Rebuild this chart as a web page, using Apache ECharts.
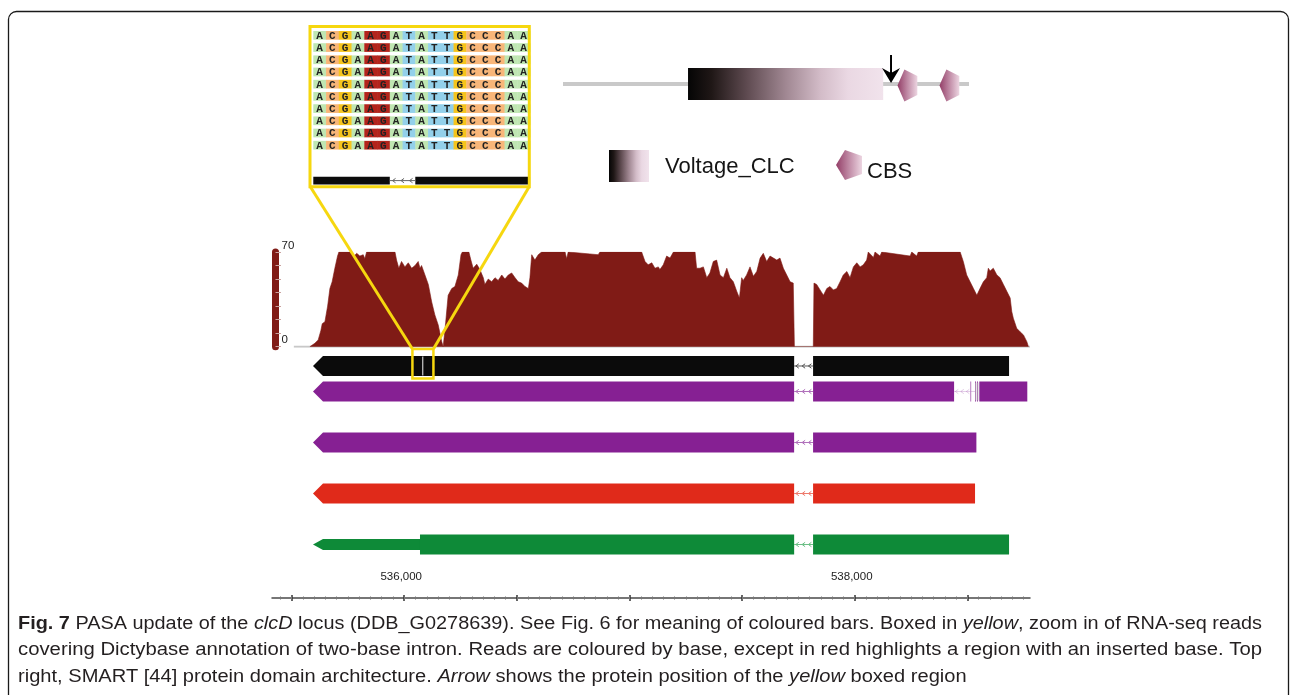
<!DOCTYPE html>
<html><head><meta charset="utf-8">
<script src="https://cdn.jsdelivr.net/npm/echarts@6/dist/echarts.min.js"></script>
<style>html,body{margin:0;padding:0;background:#fff}#c{width:1290px;height:695px}</style>
</head><body><div id="c"></div>
<script>
// ---------------- DATA ----------------
const genomeRange = [535413, 538778];
const majorTicks = [535500, 536000, 536500, 537000, 537500, 538000, 538500];
const labelTicks = [536000, 538000];
const coverageMax = 70;
const coverageLabels = [0, 70];
const coverageBaseline = [535510, 538778];
const coverage = [
[535581,0],[535589,0.5],[535603,2.5],[535618,5],[535630,12],[535636,17],[535648,18.5],[535660,30],[535670,43],[535680,48],[535692,58],[535704,67],[535710,70],[535766,70],[535778,67],[535789,69],[535803,67],[535818,68],[535825,65],[535833,70],[535959,70],[535966,64],[535976,58],[535988,63],[536003,59],[536018,62],[536033,58],[536048,60],[536062,63],[536070,58],[536077,60],[536092,53],[536107,46],[536122,33],[536136,23.5],[536151,16],[536166,4],[536173,0],[536178,0],[536184,18],[536195,38],[536211,43],[536225,44.5],[536240,53],[536252,68],[536258,70],[536287,70],[536296,64],[536306,58],[536322,61],[536336,57],[536351,51],[536358,46],[536373,50],[536388,48],[536403,51],[536417,49],[536433,53],[536447,50],[536462,53],[536477,54.5],[536492,51],[536506,48],[536521,47],[536536,44.5],[536551,43],[536558,51],[536566,68],[536580,64],[536595,68],[536610,70],[536714,70],[536721,65],[536728,70],[536861,68],[536869,70],[537054,70],[537069,63],[537083,60.5],[537099,62],[537113,58],[537128,59],[537135,57],[537150,60.5],[537165,67],[537180,65.5],[537195,70],[537291,70],[537298,58],[537313,58],[537328,59],[537343,51],[537357,54.5],[537372,63],[537387,64],[537402,53],[537417,51],[537432,58],[537446,51],[537461,48],[537476,41],[537488,36],[537498,51],[537505,49],[537520,53],[537535,59],[537550,52],[537565,55.6],[537580,65.5],[537594,69],[537609,63],[537624,67],[537639,65.5],[537654,64],[537668,65.5],[537683,58],[537698,53],[537713,48],[537727,47],[537732,0],[537816,0],[537819,47],[537831,46],[537846,42],[537861,38],[537876,43],[537890,44.5],[537905,42],[537920,43],[537935,48],[537949,53],[537965,55.6],[537979,51],[537994,59],[538009,62],[538024,59],[538038,60.5],[538053,64],[538060,70],[538083,66],[538090,70],[538112,67],[538120,70],[538246,67],[538253,70],[538275,67],[538282,70],[538468,70],[538482,63],[538497,53],[538512,48],[538527,43],[538542,38],[538556,43],[538571,48],[538586,51],[538593,58],[538601,56],[538615,58],[538631,53],[538645,51],[538660,46],[538675,41],[538690,36],[538697,26],[538704,21],[538719,13.6],[538734,11],[538749,8.7],[538764,3.7],[538771,0]
];

const trackNames = ['Dictybase', 'PASA model 1', 'PASA model 2', 'PASA model 3', 'PASA model 4'];
const trackLanes = [0, 1, 3, 5, 7];
const trackExons = [
  [[535595, 536082], [536084, 537731], [537815, 538685]],
  [[535595, 537731], [537815, 538441], [538514, 538516], [538534, 538538], [538543, 538547], [538553, 538766]],
  [[535595, 537731], [537815, 538540]],
  [[535595, 537731], [537815, 538534]],
  [[535595, 537731], [537815, 538685]]
];
const trackThickStart = [535595, 535595, 535595, 535595, 536070];
const twoBaseIntron = 536083;

const readRows = [
  'ACGAAGATATTGCCCAA','ACGAAGATATTGCCCAA','ACGAAGATATTGCCCAA','ACGAAGATATTGCCCAA','ACGAAGATATTGCCCAA',
  'ACGAAGATATTGCCCAA','ACGAAGATATTGCCCAA','ACGAAGATATTGCCCAA','ACGAAGATATTGCCCAA','ACGAAGATATTGCCCAA'
];
const insertHighlightCols = [4, 5];
const zoomAnnotExons = [[0, 6], [8, 17]];
const zoomAnnotIntrons = [[6, 8]];

const proteinLength = 880;
const domainNames = ['Voltage_CLC', 'CBS', 'CBS'];
const domainStarts = [271, 725, 816];
const domainEnds = [694, 768, 859];
const arrowResidue = 711;

const captionLines = [
  [['Fig. 7', 'b'], [' PASA update of the ', ''], ['clcD', 'i'], [' locus (DDB_G0278639). See Fig. 6 for meaning of coloured bars. Boxed in ', ''], ['yellow', 'i'], [', zoom in of RNA-seq reads', '']],
  [['covering Dictybase annotation of two-base intron. Reads are coloured by base, except in red highlights a region with an inserted base. Top', '']],
  [['right, SMART [44] protein domain architecture. ', ''], ['Arrow', 'i'], [' shows the protein position of the ', ''], ['yellow', 'i'], [' boxed region', '']]
];

// ---------------- STYLE ----------------
const COV_COLOR = '#801b16';
const TRACK_COLORS = ['#0b0b0b', '#862093', '#862093', '#e02a1a', '#0e8a38'];
const INTRON_COLORS = ['#555555', '#b070bb', '#b070bb', '#ee7a6c', '#6cbf86'];
const BASE_COLORS = { A: '#bfe6b2', C: '#f8b679', G: '#f5c41c', T: '#93d0ea' };
const HL_COLOR = '#b3241c';
const YELLOW = '#f6d70f';
const TRACK_H = 20, THIN_H = 11, TIP = 10;
const SANS = '"Liberation Sans", Arial, sans-serif';
const CLC_STOPS = [[0,'#050505'],[0.12,'#1f1716'],[0.3,'#5e4a50'],[0.5,'#a08792'],[0.68,'#d3bcc8'],[0.82,'#ead8e3'],[1,'#f1e3ec']];
const CBS_STOPS = [[0,'#933e67'],[0.5,'#c08aa5'],[1,'#ecd5e1']];
function grad(stops){ return {type:'linear', x:0, y:0, x2:1, y2:0, colorStops: stops.map(s=>({offset:s[0], color:s[1]}))}; }

// ---------------- BUILD ----------------
const trackData = [];
trackExons.forEach((exons, ti) => {
  const lane = trackLanes[ti];
  const geneStart = exons[0][0];
  exons.forEach((ex, k) => {
    trackData.push([ex[0], ex[1], lane, ti, 0, ex[0] === geneStart ? 1 : 0, trackThickStart[ti]]);
    if (k > 0) trackData.push([exons[k-1][1], ex[0], lane, ti, 1, 0, 0]);
  });
});

const readData = [];
readRows.forEach((row, r) => {
  for (let c = 0; c < row.length; c++) readData.push([c, r, row[c], insertHighlightCols.includes(c) ? 1 : 0]);
});
const ZOOM_ANNOT_LANE = 11.9;
const annotData = zoomAnnotExons.map(e => [e[0], e[1], 0]).concat(zoomAnnotIntrons.map(e => [e[0], e[1], 1]));

const domainData = [[0, proteinLength, 0]];
domainNames.forEach((n, i) => domainData.push([domainStarts[i], domainEnds[i], n === 'CBS' ? 2 : 1]));
domainData.push([arrowResidue, arrowResidue, 3]);

const minorTicks = [];
for (let v = 535450; v <= 538750; v += 50) minorTicks.push(v);

function intronGlyph(x0, x1, y, color, faint) {
  const out = [{type:'line', shape:{x1:x0, y1:y, x2:x1, y2:y}, style:{stroke:color, lineWidth:1, opacity: faint ? 0.35 : 1}}];
  const w = x1 - x0;
  if (w > 8 && w < 40) {
    for (let k = 0; k < 3; k++) {
      const cx = x0 + w * (k + 0.5) / 3;
      out.push({type:'polyline', shape:{points:[[cx+1.5, y-2.2],[cx-1.5, y],[cx+1.5, y+2.2]]}, style:{stroke:color, lineWidth:1, fill:null, opacity: faint ? 0.35 : 1}});
    }
  }
  return out;
}

function renderTrack(params, api) {
  const s = api.value(0), e = api.value(1), lane = api.value(2), ti = api.value(3), kind = api.value(4), tip = api.value(5), thick = api.value(6);
  const a = api.coord([s, lane]), b = api.coord([e, lane]);
  const y = a[1], col = TRACK_COLORS[ti];
  if (kind === 1) {
    if (b[0] - a[0] < 2) return {type:'rect', shape:{x:a[0]-0.5, y:y-TRACK_H/2+1, width:1, height:TRACK_H-2}, style:{fill:'#c8c8c8'}, z2: 5};
    return {type:'group', children: intronGlyph(a[0], b[0], y, INTRON_COLORS[ti], (b[0]-a[0]) < 14 || (b[0]-a[0]) > 12 && e > 538400)};
  }
  const children = [];
  let x0 = a[0], x1 = b[0];
  const xt = api.coord([Math.max(thick, s), lane])[0];
  function piece(xa, xb, h, pointed) {
    const hh = h / 2;
    if (pointed) return {type:'polygon', shape:{points:[[xa, y],[xa+TIP, y-hh],[xb, y-hh],[xb, y+hh],[xa+TIP, y+hh]]}, style:{fill:col}};
    return {type:'rect', shape:{x:xa, y:y-hh, width:Math.max(xb-xa, 0.6), height:h}, style:{fill:col}};
  }
  if (thick > s && thick < e) {
    children.push(piece(x0, xt, THIN_H, tip === 1));
    children.push(piece(xt, x1, TRACK_H, false));
  } else {
    children.push(piece(x0, x1, TRACK_H, tip === 1));
  }
  return {type:'group', children};
}

function renderRead(params, api) {
  const c = api.value(0), r = api.value(1), hl = api.value(3);
  const base = readData[params.dataIndex][2];
  const a = api.coord([c, r]), b = api.coord([c + 1, r]);
  const h = 8.7;
  return {type:'group', children:[
    {type:'rect', shape:{x:a[0], y:a[1]-h/2, width:b[0]-a[0]+0.4, height:h}, style:{fill: hl ? HL_COLOR : BASE_COLORS[base]}},
    {type:'text', x:(a[0]+b[0])/2, y:a[1]+0.7, style:{text:base, fontSize:11, fontFamily:'"Liberation Mono", monospace', fontWeight:'bold', fill:'#222', align:'center', verticalAlign:'middle'}}
  ]};
}

function renderAnnot(params, api) {
  const s = api.value(0), e = api.value(1), kind = api.value(2);
  const a = api.coord([s, ZOOM_ANNOT_LANE]), b = api.coord([e, ZOOM_ANNOT_LANE]);
  if (kind === 1) return {type:'group', children: intronGlyph(a[0], b[0], a[1], '#666', false)};
  return {type:'rect', shape:{x:a[0], y:a[1]-3.8, width:b[0]-a[0], height:7.6}, style:{fill:'#0b0b0b'}};
}

function renderDomain(params, api) {
  const s = api.value(0), e = api.value(1), k = api.value(2);
  const a = api.coord([s, 1]), b = api.coord([e, 0]);
  const x0 = a[0], x1 = b[0], y0 = a[1], y1 = b[1], ym = (y0 + y1) / 2;
  if (k === 0) return {type:'line', shape:{x1:x0, y1:ym, x2:x1, y2:ym}, style:{stroke:'#c9c9c9', lineWidth:4}};
  if (k === 1) return {type:'rect', shape:{x:x0, y:y0, width:x1-x0, height:y1-y0}, style:{fill:grad(CLC_STOPS)}};
  if (k === 2) {
    const w = x1 - x0, h = y1 - y0, o = 1.5;
    return {type:'polygon', shape:{points:[[x0, ym+o],[x0+0.35*w, y0+o],[x1, y0+0.2*h+o],[x1, y0+0.8*h+o],[x0+0.35*w, y1+o]]}, style:{fill:grad(CBS_STOPS)}};
  }
  return {type:'group', children:[
    {type:'line', shape:{x1:x0, y1:y0-13, x2:x0, y2:ym-6}, style:{stroke:'#000', lineWidth:2}},
    {type:'polygon', shape:{points:[[x0-9, y0],[x0, ym-1],[x0+9, y0],[x0, y0+5]]}, style:{fill:'#000'}}
  ]};
}

// caption fitting
const CAP_FS = 17.5;
const mctx = document.createElement('canvas').getContext('2d');
function segFont(st){ return (st==='i'?'italic ':'') + (st==='b'?'bold ':'') + CAP_FS + 'px "Liberation Sans"'; }
function measureLine(segs){ let w = 0; segs.forEach(([t, st]) => { mctx.font = segFont(st); w += mctx.measureText(t).width; }); return w; }
const capTargets = [1244, 1244];
const capScales = capTargets.map((t, i) => t / measureLine(captionLines[i]));
capScales.push((capScales[0] + capScales[1]) / 2);
const capY = [624, 650.5, 677];
const richStyles = {
  b: {fontWeight:'bold', fontSize:CAP_FS, fontFamily:SANS, fill:'#231f20'},
  i: {fontStyle:'italic', fontSize:CAP_FS, fontFamily:SANS, fill:'#231f20'}
};
const captionGraphics = captionLines.map((segs, i) => ({
  type:'text', x:18, y:capY[i], scaleX:capScales[i], z:50,
  style:{text: segs.map(([t, st]) => st ? '{' + st + '|' + t + '}' : t).join(''), rich: richStyles,
    fontSize:CAP_FS, fontFamily:SANS, fill:'#231f20', verticalAlign:'middle', align:'left'}
}));

const genomicAxisBase = {gridIndex:1, type:'value', position:'bottom', min:genomeRange[0], max:genomeRange[1], splitLine:{show:false}};
const chart = echarts.init(document.getElementById('c'));
const option = {
  animation: false,
  backgroundColor: '#fff',
  grid: [
    {left:272, right:260, top:252, bottom:348.3},
    {left:272, right:260, top:345, bottom:97},
    {left:313.3, top:31, width:216.75, height:159},
    {left:563, top:68, width:406, height:32}
  ],
  xAxis: [
    {gridIndex:0, type:'value', min:genomeRange[0], max:genomeRange[1], axisLine:{show:false, onZero:false}, axisTick:{show:false}, axisLabel:{show:false}, splitLine:{show:false}},
    Object.assign({}, genomicAxisBase, {axisLine:{onZero:false, lineStyle:{color:'#4a4a4a', width:1.5}}, axisTick:{customValues:majorTicks, length:3, lineStyle:{color:'#333', width:1.5}}, axisLabel:{show:false}}),
    Object.assign({}, genomicAxisBase, {axisLine:{show:false, onZero:false}, axisTick:{customValues:majorTicks, inside:true, length:3, lineStyle:{color:'#333', width:1.5}},
      axisLabel:{customValues:labelTicks, inside:true, margin:15, fontSize:11.5, fontFamily:SANS, color:'#222', padding:[0,6,0,0], formatter:(v)=>Number(v).toLocaleString('en-US')}}),
    Object.assign({}, genomicAxisBase, {axisLine:{show:false, onZero:false}, axisTick:{customValues:minorTicks, length:1.5, lineStyle:{color:'#777', width:1}}, axisLabel:{show:false}}),
    Object.assign({}, genomicAxisBase, {axisLine:{show:false, onZero:false}, axisTick:{customValues:minorTicks, inside:true, length:1.5, lineStyle:{color:'#777', width:1}}, axisLabel:{show:false}}),
    {gridIndex:2, type:'value', min:0, max:17, show:false},
    {gridIndex:3, type:'value', min:0, max:proteinLength, show:false}
  ],
  yAxis: [
    {gridIndex:0, type:'value', min:0, max:coverageMax, interval:10, offset:-3.5,
      axisLine:{show:true, onZero:false, lineStyle:{color:COV_COLOR, width:7}},
      axisTick:{show:true, inside:true, length:5.5, lineStyle:{color:'#c9a3a0', width:1}},
      axisLabel:{inside:true, margin:6, fontSize:11.5, fontFamily:SANS, color:'#222', verticalAlign:'bottom', lineHeight:13, formatter:(v)=>coverageLabels.includes(v) ? String(v) : ''},
      splitLine:{show:false}},
    {gridIndex:1, type:'value', inverse:true, min:-0.8235, max:9.098, show:false},
    {gridIndex:2, type:'value', inverse:true, min:-0.357, max:12.67, show:false},
    {gridIndex:3, type:'value', min:0, max:1, show:false}
  ],
  series: [
    {type:'line', xAxisIndex:0, yAxisIndex:0, data:coverageBaseline.map(p=>[p,0]), symbol:'none', lineStyle:{color:'#c8c8c8', width:2}, z:1, silent:true},
    {type:'line', xAxisIndex:0, yAxisIndex:0, data:coverage, symbol:'none', lineStyle:{color:COV_COLOR, width:0.6}, areaStyle:{color:COV_COLOR, opacity:1}, z:2, silent:true},
    {type:'custom', xAxisIndex:1, yAxisIndex:1, data:trackData, renderItem:renderTrack, clip:false, silent:true, z:3},
    {type:'custom', xAxisIndex:5, yAxisIndex:2, data:readData.map(d=>[d[0], d[1], 0, d[3]]), renderItem:renderRead, clip:true, silent:true, z:3},
    {type:'custom', xAxisIndex:5, yAxisIndex:2, data:annotData, renderItem:renderAnnot, clip:true, silent:true, z:3},
    {type:'custom', xAxisIndex:6, yAxisIndex:3, data:domainData, renderItem:renderDomain, clip:false, silent:true, z:3}
  ]
};
chart.setOption(option);

const ix = chart.convertToPixel({xAxisIndex:1}, twoBaseIntron);
const iy = chart.convertToPixel({yAxisIndex:1}, trackLanes[0]);
const sb = {x0: ix - 10.5, x1: ix + 10.5, y0: iy - 17, y1: iy + 12.5};

chart.setOption({
  graphic: [
    {type:'rect', z:60, shape:{x:8.5, y:11.5, width:1280, height:720, r:8}, style:{fill:null, stroke:'#1a1a1a', lineWidth:1.3}},
    {type:'rect', z:40, shape:{x:310, y:26.5, width:219.3, height:160.2}, style:{fill:null, stroke:YELLOW, lineWidth:3}},
    {type:'line', z:40, shape:{x1:310.5, y1:187, x2:sb.x0, y2:sb.y0}, style:{stroke:YELLOW, lineWidth:3}},
    {type:'line', z:40, shape:{x1:529, y1:187, x2:sb.x1, y2:sb.y0}, style:{stroke:YELLOW, lineWidth:3}},
    {type:'rect', z:40, shape:{x:sb.x0, y:sb.y0, width:sb.x1-sb.x0, height:sb.y1-sb.y0}, style:{fill:null, stroke:YELLOW, lineWidth:2.5}},
    {type:'rect', z:40, shape:{x:609, y:150, width:40, height:32}, style:{fill:grad(CLC_STOPS)}},
    {type:'text', z:40, x:665, y:167, style:{text:domainNames[0], fontSize:22, fontFamily:SANS, fill:'#151515', verticalAlign:'middle'}},
    {type:'polygon', z:40, shape:{points:[[836,165],[845,150],[862,156],[862,174],[845,180]]}, style:{fill:grad(CBS_STOPS)}},
    {type:'text', z:40, x:867, y:172, style:{text:domainNames[1], fontSize:22, fontFamily:SANS, fill:'#151515', verticalAlign:'middle'}}
  ].concat(captionGraphics)
});
</script>
</body></html>
